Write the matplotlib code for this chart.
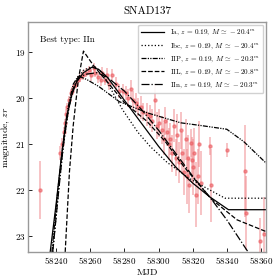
import matplotlib
matplotlib.use("Agg")
import matplotlib.pyplot as plt

plt.rcParams["font.family"] = "serif"
plt.rcParams["font.serif"] = ["cmr10"]
plt.rcParams["mathtext.fontset"] = "cm"
plt.rcParams["axes.formatter.use_mathtext"] = True

TITLE = "SNAD137"
BEST = "IIn"

# observations (MJD, mag, err)
obs_mjd = [58230.6, 58242.5, 58243.5, 58244.5, 58245.0, 58245.8, 58246.5, 58247.5,
           58248.5, 58249.5, 58250.5, 58251.5, 58253.0, 58254.0, 58256.0, 58257.5,
           58259.0, 58260.5, 58262.0, 58263.0, 58264.5, 58266.0, 58267.0, 58268.5,
           58270.0, 58271.0, 58272.5, 58275.0, 58277.0, 58279.0, 58281.0, 58282.0,
           58284.0, 58285.0, 58287.0, 58288.0, 58290.0, 58291.0, 58293.0, 58295.0,
           58296.0, 58298.0, 58299.0, 58300.0, 58302.0, 58303.0, 58304.0, 58305.0,
           58306.0, 58307.0, 58308.0, 58309.0, 58310.0, 58311.0, 58312.0, 58313.0,
           58314.0, 58315.0, 58316.0, 58316.5, 58317.0, 58318.0, 58319.0, 58319.5,
           58320.0, 58321.0, 58322.0, 58323.0, 58324.0, 58325.0, 58330.3, 58331.0,
           58340.0, 58350.8, 58351.5, 58359.6, 58362.0]
obs_mag = [22.0, 21.2, 21.0, 20.75, 20.55, 20.35, 20.2, 20.05,
           19.9, 19.85, 19.75, 19.7, 19.6, 19.55, 19.5, 19.45,
           19.4, 19.5, 19.35, 19.45, 19.55, 19.6, 19.45, 19.6,
           19.5, 19.7, 19.5, 19.7, 19.85, 19.85, 19.9, 20.0,
           19.8, 20.05, 20.1, 20.2, 20.2, 20.3, 20.35, 20.4,
           20.5, 20.05, 20.6, 20.55, 20.7, 20.9, 20.5, 20.75,
           21.0, 20.9, 21.2, 20.6, 21.3, 20.8, 21.4, 20.7,
           21.2, 21.6, 20.9, 21.7, 21.3, 21.9, 20.98, 21.35,
           21.5, 21.2, 22.1, 21.7, 21.0, 21.85, 21.04, 21.9,
           21.13, 21.58, 22.5, 23.12, 22.96]
obs_err = [0.64, 0.15, 0.12, 0.12, 0.1, 0.1, 0.1, 0.1,
           0.1, 0.08, 0.08, 0.08, 0.08, 0.1, 0.1, 0.1,
           0.1, 0.12, 0.1, 0.1, 0.12, 0.15, 0.12, 0.12,
           0.15, 0.12, 0.12, 0.15, 0.15, 0.15, 0.15, 0.2,
           0.2, 0.2, 0.2, 0.2, 0.25, 0.2, 0.25, 0.25,
           0.25, 0.35, 0.3, 0.3, 0.3, 0.35, 0.3, 0.3,
           0.35, 0.35, 0.4, 0.35, 0.4, 0.45, 0.45, 0.4,
           0.45, 0.5, 0.45, 0.6, 0.5, 0.6, 0.3, 0.5,
           0.6, 0.55, 0.7, 0.6, 0.5, 0.7, 0.2, 0.8,
           0.15, 1.0, 0.8, 0.5, 0.8]

# model curves
ia_mjd = [58236.5, 58240, 58243, 58246, 58249, 58252, 58256, 58261, 58265, 58270,
          58275, 58280, 58290, 58300, 58310, 58320, 58330, 58341, 58364]
ia_mag = [23.35, 22.3, 21.3, 20.45, 19.95, 19.65, 19.45, 19.33, 19.38, 19.55,
          19.8, 20.05, 20.55, 21.05, 21.5, 21.85, 22.15, 22.43, 22.43]
ibc_mjd = [58238, 58242, 58245, 58248, 58252, 58256, 58262, 58267, 58272, 58279,
           58288, 58295, 58305, 58318, 58330, 58339, 58364]
ibc_mag = [23.35, 21.8, 20.8, 20.1, 19.6, 19.4, 19.3, 19.45, 19.8, 20.26,
           20.75, 21.05, 21.4, 21.75, 22.0, 22.18, 22.18]
iip_mjd = [58237.5, 58241, 58244, 58247, 58250, 58253, 58258, 58265, 58277, 58294,
           58313, 58325, 58340, 58350, 58364]
iip_mag = [23.35, 22.0, 21.0, 20.2, 19.7, 19.52, 19.6, 19.75, 20.08, 20.33,
           20.54, 20.6, 20.68, 20.95, 21.45]
iil_mjd = [58245.3, 58247.8, 58250, 58253, 58256, 58262, 58270, 58280, 58293, 58304,
           58315, 58331, 58346, 58364]
iil_mag = [23.35, 21.6, 20.6, 19.6, 18.98, 19.3, 19.65, 20.1, 20.5, 20.95,
           21.5, 22.2, 22.65, 22.92]
iin_mjd = [58238, 58241, 58244, 58247, 58250, 58253, 58258, 58264, 58270, 58280,
           58290, 58300, 58310, 58320, 58331, 58340, 58352.5]
iin_mag = [23.35, 22.2, 21.1, 20.3, 19.8, 19.55, 19.48, 19.45, 19.55, 19.85,
           20.25, 20.7, 21.2, 21.7, 22.2, 22.65, 23.35]

models = [
    ("Ia", ia_mjd, ia_mag, -20.4, "-"),
    ("Ibc", ibc_mjd, ibc_mag, -20.4, ":"),
    ("IIP", iip_mjd, iip_mag, -20.3, (0, (4, 1, 1, 1, 1, 1))),
    ("IIL", iil_mjd, iil_mag, -20.8, "--"),
    ("IIn", iin_mjd, iin_mag, -20.3, "-."),
]

fig = plt.figure(figsize=(2.8, 2.8), dpi=100)
ax = fig.add_axes([0.1, 0.1, 0.85, 0.821])

ax.errorbar(obs_mjd, obs_mag, yerr=obs_err, fmt="o", ms=2.2, color="#ec5f64",
            ecolor="#f08a8e", elinewidth=1.2, alpha=0.6, zorder=1)

for name, x, y, m, ls in models:
    ax.plot(x, y, color="black", ls=ls, lw=0.9,
            label=rf"{name}, $z\, =\, 0.19$, $M\, \simeq\, {m:.1f}^m$", zorder=2)

ax.set_xlim(58223.5, 58363)
ax.set_ylim(23.35, 18.35)
ax.set_xticks([58240, 58260, 58280, 58300, 58320, 58340, 58360])
ax.set_yticks([19, 20, 21, 22, 23])
ax.ticklabel_format(axis="x", useOffset=False, style="plain")
ax.tick_params(direction="in", labelsize=6.5, length=3, width=0.6, pad=2)
for sp in ax.spines.values():
    sp.set_color("0.6")
    sp.set_linewidth(1.0)

ax.set_title(TITLE, fontsize=8, pad=6)
ax.set_xlabel("MJD", fontsize=7, labelpad=2)
ax.set_ylabel("magnitude, $zr$", fontsize=7, labelpad=2)
ax.text(0.05, 0.94, f"Best type: {BEST}", transform=ax.transAxes,
        fontsize=6.5, va="top")
ax.legend(loc="upper right", fontsize=5.2, handlelength=3.2, labelspacing=0.5,
          borderaxespad=0.4, framealpha=0.9)

fig.savefig("out.png", dpi=100)
